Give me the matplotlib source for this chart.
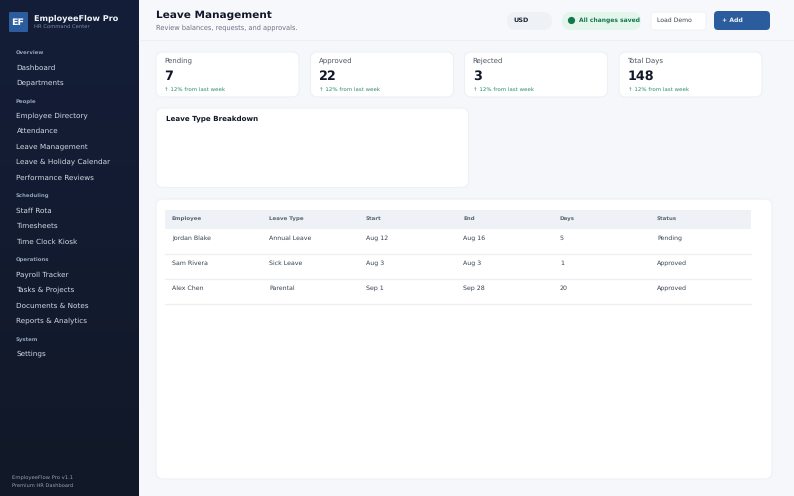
import matplotlib
matplotlib.use('Agg')
import matplotlib.pyplot as plt
from matplotlib.patches import FancyBboxPatch, Rectangle, Circle
import numpy as np

plt.rcParams['text.hinting'] = 'no_hinting'

W, H = 794, 496

# sidebar content
nav_sections = ['Overview', 'People', 'Scheduling', 'Operations', 'System']
nav_section_y = [53, 102, 196, 260, 340]
nav_items = ['Dashboard', 'Departments', 'Employee Directory', 'Attendance', 'Leave Management',
             'Leave & Holiday Calendar', 'Performance Reviews', 'Staff Rota', 'Timesheets',
             'Time Clock Kiosk', 'Payroll Tracker', 'Tasks & Projects', 'Documents & Notes',
             'Reports & Analytics', 'Settings']
nav_item_y = [68, 83, 116, 131, 147, 162, 178, 211, 226, 242, 275, 290, 306, 321, 354]

# stat cards
card_labels = ['Pending', 'Approved', 'Rejected', 'Total Days']
card_values = ['7', '22', '3', '148']
card_x = [156, 310.5, 464.5, 619]
card_delta = '↑ 12% from last week'

# table
table_cols = ['Employee', 'Leave Type', 'Start', 'End', 'Days', 'Status']
col_x = [172, 269, 366, 463, 560, 657]
employees = ['Jordan Blake', 'Sam Rivera', 'Alex Chen']
leave_types = ['Annual Leave', 'Sick Leave', 'Parental']
starts = ['Aug 12', 'Aug 3', 'Sep 1']
ends = ['Aug 16', 'Aug 3', 'Sep 28']
days = ['5', '1', '20']
statuses = ['Pending', 'Approved', 'Approved']
row_y = [238, 263, 288]
row_line_y = [253.5, 278.5, 303.5]


def px(size):
    return size * 0.72


def box(ax, x, y, w, h, r, fc, ec='none', lw=0.8, z=2):
    p = FancyBboxPatch((x + r, y + r), w - 2 * r, h - 2 * r, boxstyle=f'round,pad={r},rounding_size={r}',
                       fc=fc, ec=ec, lw=lw, zorder=z)
    ax.add_patch(p)


def label(ax, x, y, s, size, color, weight='normal', ha='left'):
    ax.text(x, y, s, fontsize=px(size), color=color, fontweight=weight, ha=ha, va='center', zorder=5)


fig = plt.figure(figsize=(W / 100, H / 100), dpi=100, facecolor='#f5f7fb')
ax = fig.add_axes([0, 0, 1, 1])
ax.set_xlim(0, W)
ax.set_ylim(H, 0)
ax.axis('off')

# sidebar, slight vertical gradient
grad = np.linspace(0, 1, 200).reshape(-1, 1)
c1 = np.array([0x14, 0x1e, 0x38]) / 255
c2 = np.array([0x11, 0x18, 0x27]) / 255
img = (c1 + (c2 - c1) * grad[..., None]).reshape(200, 1, 3)
ax.imshow(img, extent=[0, 139, H, 0], aspect='auto', zorder=1)
ax.set_xlim(0, W)
ax.set_ylim(H, 0)

box(ax, 9, 12, 19, 20, 1, '#2b5c9e', z=3)
label(ax, 18, 22.5, 'EF', 9.5, 'white', 'bold', ha='center')
label(ax, 34, 18, 'EmployeeFlow Pro', 8.2, '#f1f5f9', 'bold')
label(ax, 34, 26.5, 'HR Command Center', 5.3, '#7f8ca3')

for s, y in zip(nav_sections, nav_section_y):
    label(ax, 15.5, y, s, 5.4, '#94a3b8', 'bold')
for s, y in zip(nav_items, nav_item_y):
    label(ax, 16.5, y, s, 7.25, '#d3dae6')

label(ax, 12, 477.5, 'EmployeeFlow Pro v1.1', 5.2, '#94a3b8')
label(ax, 12, 486, 'Premium HR Dashboard', 5.1, '#94a3b8')

# header
ax.add_patch(Rectangle((139, 0), W - 139, 40, fc='#f6f8fc', ec='none', zorder=1))
ax.plot([139, W], [40, 40], color='#edf0f5', lw=0.8, zorder=2)
label(ax, 155.5, 15, 'Leave Management', 10.5, '#111827', 'bold')
label(ax, 155.5, 27.5, 'Review balances, requests, and approvals.', 6.6, '#6b7280')

box(ax, 507, 12, 45, 18, 9, '#eef1f5')
label(ax, 513, 20.5, 'USD', 6.5, '#1f2937', 'bold')
box(ax, 562, 12, 79, 18, 9, '#e4f5ec')
ax.add_patch(Circle((571.5, 20.5), 3.6, fc='#14784f', ec='none', zorder=4))
label(ax, 579, 20.5, 'All changes saved', 6, '#14784f', 'bold')
box(ax, 651, 12, 55, 18, 3, 'white', ec='#f0f2f6')
label(ax, 657, 20, 'Load Demo', 6.1, '#374151')
box(ax, 714, 11, 56, 19, 4, '#2b5c9e')
label(ax, 722, 20, '+ Add', 6.2, '#f1f5f9', 'bold')

# stat cards
for x, lab, val in zip(card_x, card_labels, card_values):
    box(ax, x, 52, 143, 45, 7, 'white', ec='#edf0f5')
    label(ax, x + 8.3, 61, lab, 7, '#4b5563')
    label(ax, x + 8.3, 76, val, 12.8, '#111827', 'bold')
    label(ax, x + 8.5, 89.5, card_delta, 5.5, '#2a8a68')

# breakdown card
box(ax, 156, 108, 312.5, 79.5, 7, 'white', ec='#edf0f5')
label(ax, 165.5, 118.5, 'Leave Type Breakdown', 7.1, '#111827', 'bold')

# table card
box(ax, 156, 199, 616, 280, 7, 'white', ec='#edf0f5')
ax.add_patch(Rectangle((165, 209.5), 585.5, 19, fc='#eef1f6', ec='none', zorder=3))
for x, c in zip(col_x, table_cols):
    label(ax, x, 218.5, c, 5.5, '#5b6472', 'bold')
rows = zip(employees, leave_types, starts, ends, days, statuses)
for y, ly, row in zip(row_y, row_line_y, rows):
    for x, s in zip(col_x, row):
        label(ax, x, y, s, 6.3, '#374151')
    ax.plot([165, 750.5], [ly, ly], color='#eceff4', lw=0.9, zorder=3)

fig.savefig('out.png', dpi=100, facecolor=fig.get_facecolor())
